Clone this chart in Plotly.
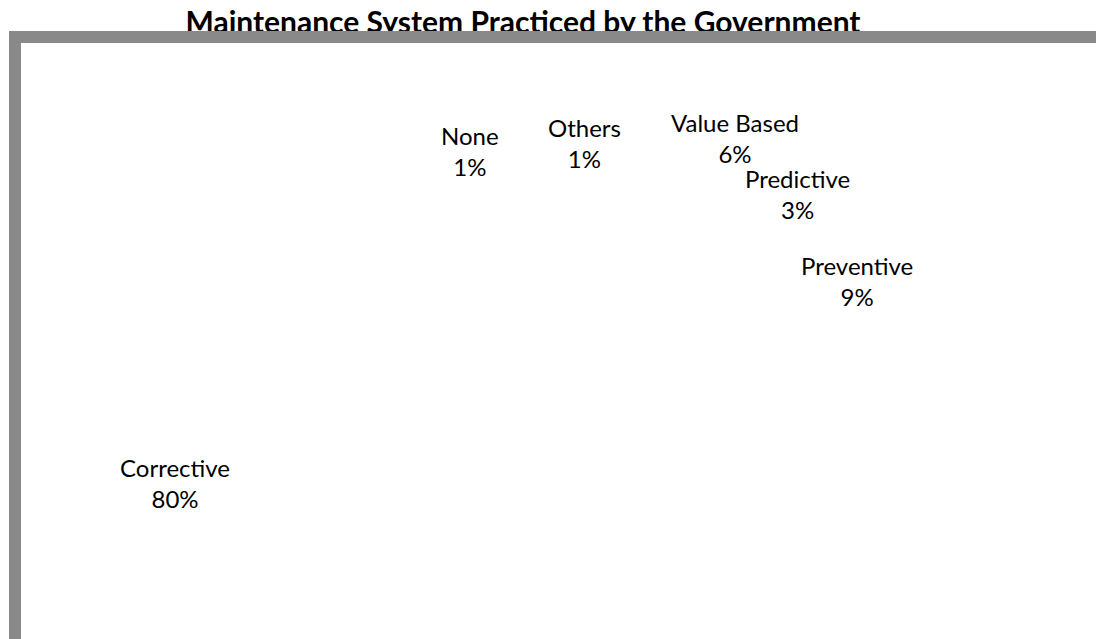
import plotly.graph_objects as go

categories = ["None", "Others", "Value Based", "Predictive", "Preventive", "Corrective"]
values = [1, 1, 6, 3, 9, 80]
# label block centres (pixels)
label_x = [470, 585, 735, 797, 857, 175]
label_y = [151, 143, 138, 194, 281, 483]

W, H = 1096, 639
FONT = "Lato, Calibri, Carlito, sans-serif"

fig = go.Figure()
fig.add_trace(go.Pie(
    labels=categories, values=values, sort=False, direction="clockwise",
    marker=dict(colors=["#ffffff"] * len(values), line=dict(width=0)),
    textinfo="none", hoverinfo="skip", showlegend=False,
    domain=dict(x=[0.2, 0.8], y=[0.05, 0.75]),
))

annotations = []
for c, v, x, y in zip(categories, values, label_x, label_y):
    annotations.append(dict(
        text=f"{c}<br>{v}%", x=x / W, y=1 - y / H, xref="paper", yref="paper",
        xanchor="center", yanchor="middle", showarrow=False, align="center",
        font=dict(family=FONT, size=24, color="#000000"),
    ))

# gray frame bars (top and left) drawn over the title
frame = "#898989"
annotations.append(dict(
    text=" ", x=9 / W, y=1 - 31 / H, xref="paper", yref="paper",
    xanchor="left", yanchor="top", showarrow=False,
    width=W, height=12, bgcolor=frame, borderpad=0, borderwidth=0,
    font=dict(size=6),
))
annotations.append(dict(
    text=" ", x=9 / W, y=1 - 31 / H, xref="paper", yref="paper",
    xanchor="left", yanchor="top", showarrow=False,
    width=12, height=H, bgcolor=frame, borderpad=0, borderwidth=0,
    font=dict(size=6),
))

fig.update_layout(
    width=W, height=H,
    margin=dict(l=0, r=0, t=0, b=0),
    paper_bgcolor="#ffffff", plot_bgcolor="#ffffff",
    title=dict(
        text="<b>Maintenance System Practiced by the Government</b>",
        x=523 / W, xanchor="center", y=1 - 22 / H, yanchor="middle",
        font=dict(family=FONT, size=30, color="#000000"),
    ),
    annotations=annotations,
)

fig.write_html(
    "out.html",
    config={"displayModeBar": False},
    post_script="document.body.style.margin='0';document.body.style.overflow='hidden';",
)
